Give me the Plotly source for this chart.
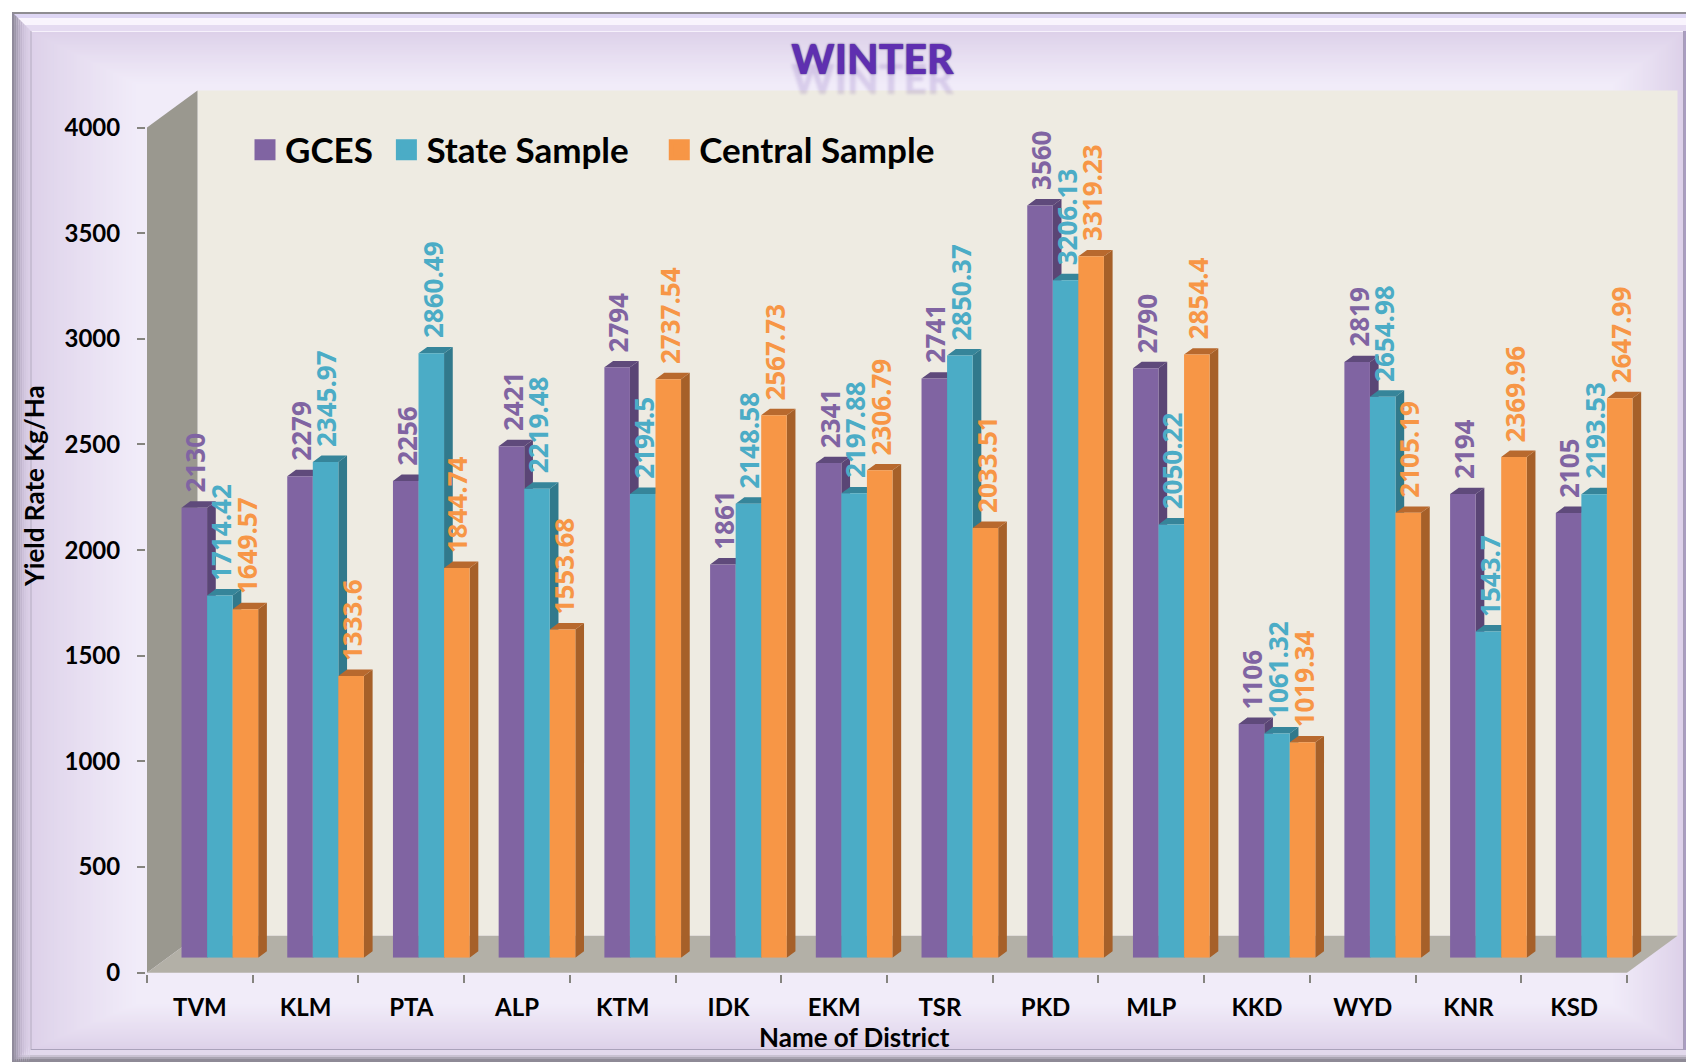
import plotly.graph_objects as go

DISTRICTS = ["TVM","KLM","PTA","ALP","KTM","IDK","EKM","TSR","PKD","MLP","KKD","WYD","KNR","KSD"]
GCES = [2130,2279,2256,2421,2794,1861,2341,2741,3560,2790,1106,2819,2194,2105]
STATE = [1714.42,2345.97,2860.49,2219.48,2194.5,2148.58,2197.88,2850.37,3206.13,2050.22,1061.32,2654.98,1543.7,2193.53]
CENTRAL = [1649.57,1333.6,1844.74,1553.68,2737.54,2567.73,2306.79,2033.51,3319.23,2854.4,1019.34,2105.19,2369.96,2647.99]
Y_TICKS = [0,500,1000,1500,2000,2500,3000,3500,4000]
SERIES = [
    ("GCES", GCES, "#8064a2", "#5a4575", "#5f4a7b", 1),
    ("State Sample", STATE, "#4bacc6", "#31798c", "#36859a", 3),
    ("Central Sample", CENTRAL, "#f79646", "#a66029", "#b8692e", 0),
]

W, H = 1686, 1062
X0, X1, Y0, Y4 = 147.0, 1627.0, 972.7, 127.5      # front plane of the axes
BX, BY = 20.0, 15.0                               # bars sit this far into the box
WX, WY = 50.5, 37.0                               # box depth
DX, DY = 8.7, 6.4                                 # bar depth
CATPX = (X1 - X0) / len(DISTRICTS)
VALPX = (Y0 - Y4) / 4000
BAR_W = 25.55 / CATPX

def px(x): return x / W
def py(y): return 1 - y / H
def lerp(a, b, t):
    a = [int(a[i:i+2], 16) for i in (1, 3, 5)]
    b = [int(b[i:i+2], 16) for i in (1, 3, 5)]
    return "#%02x%02x%02x" % tuple(round(p + (q - p) * t) for p, q in zip(a, b))

shapes = []
def rect(x0, y0, x1, y1, color):
    shapes.append(dict(type="rect", xref="paper", yref="paper", x0=px(x0), x1=px(x1),
                       y0=py(y0), y1=py(y1), fillcolor=color, line_width=0, layer="below"))
def poly(pts, color):
    d = "M" + "L".join(f"{px(a):.5f},{py(b):.5f}" for a, b in pts) + "Z"
    shapes.append(dict(type="path", xref="paper", yref="paper", path=d,
                       fillcolor=color, line_width=0, layer="below"))

# Frame bevel
rect(12, 12, W, H, "#e4daef")
for y, h, c in [(12,2,"#8f8d92"),(14,4,"#ded6f4"),(18,7,"#f9f4fd"),(25,6,"#e5dbf1")]:
    rect(12, y, W, y + h, c)
for y, h, c in [(1050,5,"#e2d9ec"),(1055,2,"#c9c2d2"),(1057,2,"#aaa5b2"),(1059,3,"#8e8a96")]:
    rect(12, y, W, y + h, c)
for i, c in enumerate(["#8f8a9b","#9d97a9","#aba3b8","#b7adc4","#c2b6cf","#ccc0d9","#d3c7df","#d8cce4","#dbcfe7"]):
    d = i * 2.1
    poly([(12+d, 12+d), (14.1+d, 14.1+d), (14.1+d, H-(2.1+d)), (12+d, H)], c)
rect(1684, 31, W, 1050, "#a99dc0")

# Panel gradient
STEPS = 32
for i in range(STEPS + 1):
    t = i / STEPS
    rect(31 + 105*t, 32 + 52*t, 1683 - 70*t, 1049 - 45*t, lerp("#ddd1e9", "#f1ecf9", t ** 0.9))
rect(31, 31, 1683, 32, "#f6f1fb")
rect(30.5, 31, 31.5, 1050, "#b4abc0")
rect(31, 1049, 1684, 1050, "#aaa2bb")
rect(1683, 31, 1684, 1050, "#a79db8")

# 3-D box
poly([(X0+WX, Y4-WY), (X1+WX, Y4-WY), (X1+WX, Y0-WY), (X0+WX, Y0-WY)], "#eeebe2")
poly([(X0, Y0), (X0+WX, Y0-WY), (X0+WX, Y4-WY), (X0, Y4)], "#9a988f")
poly([(X0, Y0), (X1, Y0), (X1+WX, Y0-WY), (X0+WX, Y0-WY)], "#b3b0a7")

fig = go.Figure()
# Carries the category axis
fig.add_trace(go.Scatter(x=DISTRICTS, y=GCES, xaxis="x", yaxis="y", mode="none",
                         showlegend=False, hoverinfo="skip"))

ddx, ddy = DX / CATPX, DY / VALPX
annotations = []
for s, (name, vals, front, side, top, npad) in enumerate(SERIES):
    off = (s - 1.5) * BAR_W
    sx, sy, tx, ty = [], [], [], []
    for i, v in enumerate(vals):
        l, r = i + off, i + off + BAR_W
        sx += [r, r + ddx, r + ddx, r, r, None]
        sy += [0, ddy, v + ddy, v, 0, None]
        tx += [l, r, r + ddx, l + ddx, l, None]
        ty += [v, v, v + ddy, v + ddy, v, None]
        annotations.append(dict(x=i + off + BAR_W / 2, y=v, xref="x2", yref="y2", text=str(v),
                                textangle=-90, showarrow=False, xanchor="center", yanchor="bottom",
                                yshift=14, xshift=1, borderpad=0,
                                font=dict(family="Open Sans", size=26, color=front, weight=700)))
    z = s * 3 + 1
    fig.add_trace(go.Scatter(x=sx, y=sy, xaxis="x2", yaxis="y2", mode="none", fill="toself",
                             fillcolor=side, showlegend=False, hoverinfo="skip", zorder=z))
    fig.add_trace(go.Scatter(x=tx, y=ty, xaxis="x2", yaxis="y2", mode="none", fill="toself",
                             fillcolor=top, showlegend=False, hoverinfo="skip", zorder=z))
    fig.add_trace(go.Bar(x=list(range(len(vals))), y=vals, xaxis="x2", yaxis="y2", name=name,
                         width=BAR_W, offset=off, marker=dict(color=front, line_width=0),
                         showlegend=False, zorder=z + 1))
    fig.add_trace(go.Scatter(x=[None], y=[None], xaxis="x2", yaxis="y2", mode="markers",
                             name=name + "\u00a0" * npad,
                             marker=dict(symbol="square", size=16, color=front,
                                         line=dict(width=5, color=front))))

annotations.append(dict(x=px(854), y=py(1037), xref="paper", yref="paper", text="Name of District",
                        xanchor="center", yanchor="middle", showarrow=False,
                        font=dict(family="Lato", size=26, color="#000", weight=700)))
annotations.append(dict(x=px(34), y=py(486), xref="paper", yref="paper", text="Yield Rate Kg/Ha",
                        xanchor="center", yanchor="middle", textangle=-90, showarrow=False,
                        font=dict(family="Lato", size=26, color="#000", weight=700)))

AXC = "#85847f"
fig.update_layout(
    width=W, height=H, margin=dict(l=0, r=0, t=0, b=0, autoexpand=False), autosize=False,
    paper_bgcolor="#ffffff", plot_bgcolor="rgba(0,0,0,0)",
    barmode="overlay", shapes=shapes, annotations=annotations,
    title=dict(text="WINTER", x=px(872.5), y=py(60), xanchor="center", yanchor="middle",
               font=dict(family="Lato", size=41, color="#5f2fb0", weight=900,
                         shadow="0 0 2px #3b2a78, 0 20px 3px rgba(90,44,160,0.16)")),
    legend=dict(orientation="h", x=px(245), y=py(150), xanchor="left", yanchor="middle",
                bgcolor="rgba(0,0,0,0)", borderwidth=0, itemclick=False, itemdoubleclick=False,
                font=dict(family="Lato", size=35, color="#000", weight=700)),
    xaxis=dict(type="category", categoryorder="array", categoryarray=DISTRICTS,
               domain=[px(X0), px(X1)], range=[-0.5, 13.5], anchor="y", tickson="boundaries",
               ticks="outside", ticklen=8, tickwidth=2, tickcolor=AXC, showline=True,
               linecolor=AXC, linewidth=2, showgrid=False, zeroline=False, fixedrange=True,
               ticklabelstandoff=12,
               tickfont=dict(family="Lato", size=24, color="#000", weight=700)),
    yaxis=dict(domain=[py(Y0), py(Y4)], range=[0, 4000], anchor="x", tickvals=Y_TICKS,
               ticks="outside", ticklen=8, tickwidth=2, tickcolor=AXC, showline=True,
               linecolor=AXC, linewidth=2, showgrid=False, zeroline=False, fixedrange=True,
               ticklabelstandoff=12,
               tickfont=dict(family="Lato", size=24, color="#000", weight=700)),
    xaxis2=dict(domain=[px(X0 + BX), px(X1 + BX)], range=[-0.5, 13.5], anchor="y2",
                visible=False, fixedrange=True),
    yaxis2=dict(domain=[py(Y0 - BY), py(Y4 - BY)], range=[0, 4000], anchor="x2",
                visible=False, fixedrange=True),
)

fig.write_html("out.html", config=dict(displayModeBar=False),
               post_script="document.body.style.margin='0';document.body.style.overflow='hidden';")
